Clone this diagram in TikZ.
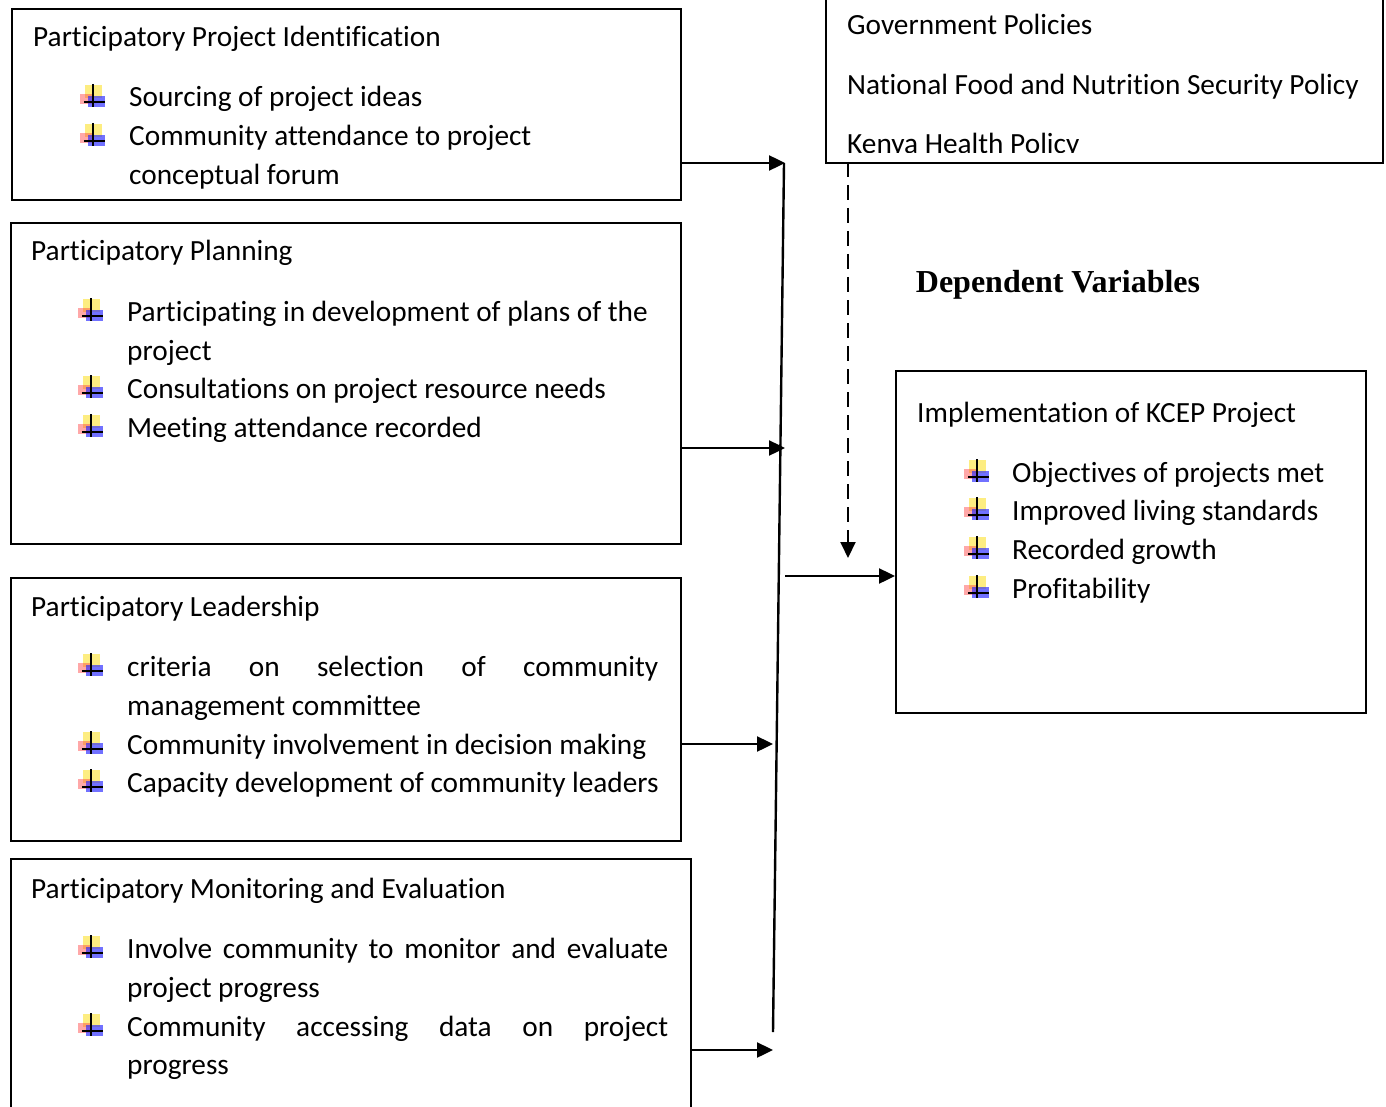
\documentclass[tikz,border=0pt]{standalone}
\usepackage{fontspec}
\setmainfont{Carlito}[Ligatures=NoCommon]
\newfontfamily\headfont{Liberation Serif}
\usetikzlibrary{arrows.meta}

\tikzset{
  panel/.style={draw, line width=2.2pt, anchor=north west, inner sep=0pt},
  txt/.style={anchor=base west, inner sep=0pt, font=\fontsize{29.3}{39}\selectfont},
  link/.style={line width=2.4pt, -{Triangle[length=16pt,width=15pt]}},
  pics/plusbullet/.style={code={
    \fill[yellow!80!orange, opacity=.5] (-8,-17) rectangle (9,-4);
    \fill[red!75, opacity=.45] (-13,-8) rectangle (-1,2);
    \fill[blue!85, opacity=.65] (-5,-6) rectangle (12,5);
    \draw[line width=1.6pt] (0,-18) -- (0,5) (-9,0) -- (12,0);
  }}
}

\begin{document}
\begin{tikzpicture}[x=1pt,y=-1pt]
\clip (0,0) rectangle (1386,1107);
\fill[white] (0,0) rectangle (1386,1107);

% Boxes
\node[panel, minimum width=669pt, minimum height=191pt] (ident) at (11,8) {};
\node[panel, minimum width=670pt, minimum height=321pt] (plan) at (10,222) {};
\node[panel, minimum width=670pt, minimum height=263pt] (lead) at (10,577) {};
\node[panel, minimum width=680pt, minimum height=300pt] (monit) at (10,858) {};
\node[panel, minimum width=557pt, minimum height=182pt] (policy) at (825,-20) {};
\node[panel, minimum width=470pt, minimum height=342pt] (impl) at (895,370) {};

% Participatory Project Identification
\node[txt] (identT) at (33,47) {Participatory Project Identification};
\node[txt] (identA) at (129,107) {Sourcing of project ideas};
\node[txt] (identB) at (129,146) {Community attendance to project};
\node[txt] (identC) at (129,185) {conceptual forum};
\foreach \y in {102,141} \pic at (93,\y) {plusbullet};

% Participatory Planning
\node[txt] (planT) at (31,261) {Participatory Planning};
\node[txt] (planA) at (127,321) {Participating in development of plans of the};
\node[txt] (planB) at (127,360) {project};
\node[txt] (planC) at (127,398) {Consultations on project resource needs};
\node[txt] (planD) at (127,437) {Meeting attendance recorded};
\foreach \y in {316,393,432} \pic at (91,\y) {plusbullet};

% Participatory Leadership
\node[txt] (leadT) at (31,616) {Participatory Leadership};
\node[txt] (leadA) at (127,676) {\makebox[531pt][s]{criteria on selection of community}};
\node[txt] (leadB) at (127,715) {management committee};
\node[txt] (leadC) at (127,754) {Community involvement in decision making};
\node[txt] (leadD) at (127,792) {Capacity development of community leaders};
\foreach \y in {671,749,787} \pic at (91,\y) {plusbullet};

% Participatory Monitoring and Evaluation
\node[txt] (monitT) at (31,898) {Participatory Monitoring and Evaluation};
\node[txt] (monitA) at (127,958) {\makebox[541pt][s]{Involve community to monitor and evaluate}};
\node[txt] (monitB) at (127,997) {project progress};
\node[txt] (monitC) at (127,1036) {\makebox[541pt][s]{Community accessing data on project}};
\node[txt] (monitD) at (127,1074) {progress};
\foreach \y in {953,1031} \pic at (91,\y) {plusbullet};

% Government policies
\node[txt] (polA) at (847,35) {Government Policies};
\node[txt] (polB) at (847,95) {National Food and Nutrition Security Policy};
\begin{scope}
\clip (825,0) rectangle (1382,153);
\node[txt] (polC) at (847,154) {Kenya Health Policy};
\end{scope}

% Dependent variable
\node[inner sep=0pt, font=\headfont\bfseries\fontsize{32}{38}\selectfont] (depT) at (1058,285) {Dependent Variables};
\node[txt] (implT) at (917,422) {Implementation of KCEP Project};
\node[txt] (implA) at (1012,482) {Objectives of projects met};
\node[txt] (implB) at (1012,520) {Improved living standards};
\node[txt] (implC) at (1012,559) {Recorded growth};
\node[txt] (implD) at (1012,598) {Profitability};
\foreach \y in {477,515,554,593} \pic at (977,\y) {plusbullet};

% Connectors
\coordinate (bus1) at (785,163);
\coordinate (bus2) at (785,448);
\coordinate (bus3) at (773,744);
\coordinate (bus4) at (773,1050);
\coordinate (busTop) at (784,163);
\coordinate (busEnd) at (773,1032);
\coordinate (busOut) at (785,576);
\coordinate (dashTop) at (848,162);
\coordinate (dashEnd) at (848,558);
\draw[line width=2.4pt] (busTop) -- (busEnd);
\draw[link] (ident.east |- bus1) -- (bus1);
\draw[link] (plan.east |- bus2) -- (bus2);
\draw[link] (lead.east |- bus3) -- (bus3);
\draw[link] (monit.east |- bus4) -- (bus4);
\draw[link] (busOut) -- (impl.west |- busOut);
\draw[link, line width=2pt, dash pattern=on 15pt off 8pt] (dashTop) -- (dashEnd);
\end{tikzpicture}
\end{document}
